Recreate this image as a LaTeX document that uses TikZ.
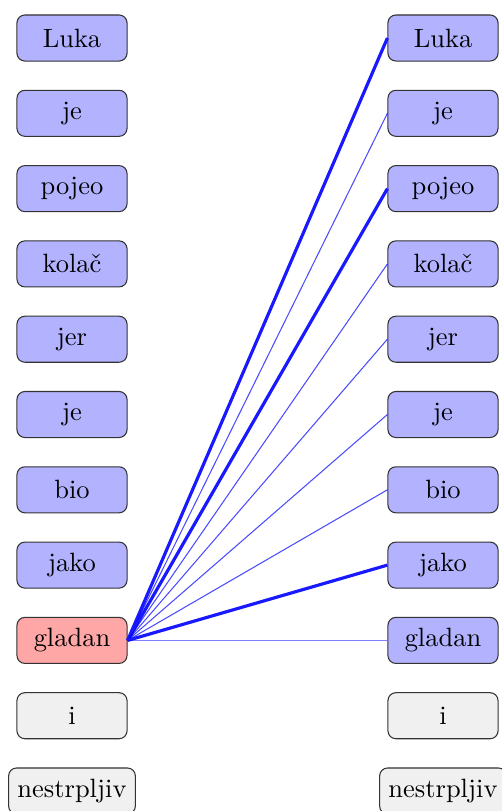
\documentclass[tikz,border=0pt]{standalone}
\usepackage{fontspec}
\begin{document}
\begin{tikzpicture}[x=0.3778pt,y=-0.3778pt,
  tok/.style={draw=black!80, rounded corners=3pt, minimum width=41.6pt, minimum height=17.4pt, inner sep=3.33pt, font=\normalsize},
  blu/.style={tok, fill=blue!30},
  red/.style={tok, fill=red!35},
  gry/.style={tok, fill=black!6},
  strong/.style={blue!90, line width=1.2pt},
  weak/.style={blue, opacity=0.7, line width=0.4pt},
  faint/.style={blue, opacity=0.5, line width=0.5pt}]
\useasboundingbox (0,0) rectangle (502,811);
% left column
\node[blu] (l1) at (72,38) {Luka};
\node[blu] (l2) at (72,113.3) {je};
\node[blu] (l3) at (72,188.6) {pojeo};
\node[blu] (l4) at (72,263.9) {kolač};
\node[blu] (l5) at (72,339.2) {jer};
\node[blu] (l6) at (72,414.5) {je};
\node[blu] (l7) at (72,489.8) {bio};
\node[blu] (l8) at (72,565.1) {jako};
\node[red] (l9) at (72,640.4) {gladan};
\node[gry] (l10) at (72,715.7) {i};
\node[gry] (l11) at (72,791) {nestrpljiv};
% right column
\node[blu] (r1) at (443,38) {Luka};
\node[blu] (r2) at (443,113.3) {je};
\node[blu] (r3) at (443,188.6) {pojeo};
\node[blu] (r4) at (443,263.9) {kolač};
\node[blu] (r5) at (443,339.2) {jer};
\node[blu] (r6) at (443,414.5) {je};
\node[blu] (r7) at (443,489.8) {bio};
\node[blu] (r8) at (443,565.1) {jako};
\node[blu] (r9) at (443,640.4) {gladan};
\node[gry] (r10) at (443,715.7) {i};
\node[gry] (r11) at (443,791) {nestrpljiv};
% attention links
\draw[strong] (l9.east) -- (r1.west);
\draw[weak] (l9.east) -- (r2.west);
\draw[strong] (l9.east) -- (r3.west);
\draw[weak] (l9.east) -- (r4.west);
\draw[weak] (l9.east) -- (r5.west);
\draw[weak] (l9.east) -- (r6.west);
\draw[weak] (l9.east) -- (r7.west);
\draw[strong] (l9.east) -- (r8.west);
\draw[faint] (l9.east) -- (r9.west);
\end{tikzpicture}
\end{document}
